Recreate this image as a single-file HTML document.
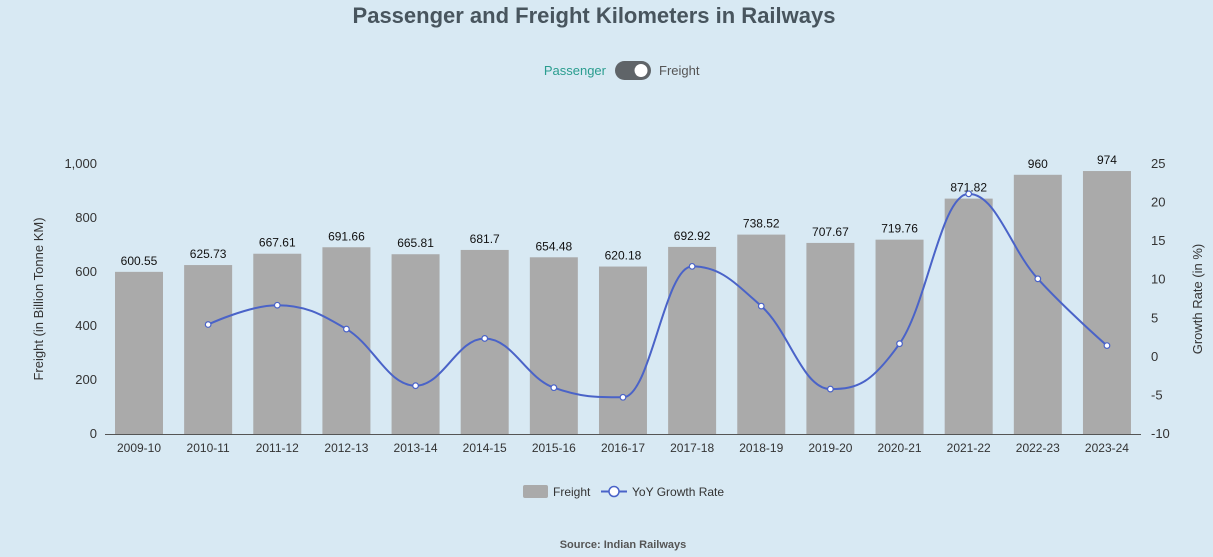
<!DOCTYPE html>
<html><head><meta charset="utf-8"><style>
body{margin:0;background:#d8e9f3;font-family:"Liberation Sans",sans-serif;}
svg{display:block}
</style></head><body>
<svg id="s" width="1213" height="557" xmlns="http://www.w3.org/2000/svg">
<rect width="1213" height="557" fill="#d8e9f3"/>
<text x="594" y="23" text-anchor="middle" font-size="22" font-weight="bold" fill="#48555e">Passenger and Freight Kilometers in Railways</text>
<text x="606" y="75" text-anchor="end" font-size="13" fill="#2a9d8f">Passenger</text>
<rect x="615" y="61" width="36" height="19" rx="9.5" fill="#5f6468"/>
<circle cx="641" cy="70.5" r="6.5" fill="#fff"/>
<text x="659" y="75" font-size="13" fill="#555">Freight</text>
<g id="g"></g>
<text x="43" y="299" transform="rotate(-90 43 299)" text-anchor="middle" font-size="13" fill="#333">Freight (in Billion Tonne KM)</text>
<text x="1202" y="299" transform="rotate(-90 1202 299)" text-anchor="middle" font-size="13" fill="#333">Growth Rate (in %)</text>
<rect x="523" y="485" width="25" height="13" rx="2" fill="#aaaaaa"/>
<text x="553" y="496" font-size="12" fill="#333">Freight</text>
<line x1="601" y1="491.5" x2="627" y2="491.5" stroke="#4a63c8" stroke-width="2"/>
<circle cx="614" cy="491.5" r="5" fill="#fff" stroke="#4a63c8" stroke-width="1.5"/>
<text x="632" y="496" font-size="12" fill="#333">YoY Growth Rate</text>
<text x="623" y="548" text-anchor="middle" font-size="11" font-weight="bold" fill="#555">Source: Indian Railways</text>
</svg>
<script>
var cats=["2009-10","2010-11","2011-12","2012-13","2013-14","2014-15","2015-16","2016-17","2017-18","2018-19","2019-20","2020-21","2021-22","2022-23","2023-24"];
var vals=[600.55,625.73,667.61,691.66,665.81,681.7,654.48,620.18,692.92,738.52,707.67,719.76,871.82,960,974];
var labs=["600.55","625.73","667.61","691.66","665.81","681.7","654.48","620.18","692.92","738.52","707.67","719.76","871.82","960","974"];
var h='';
function yl(v){return 434-v*0.27;}
function yr(v){return 434-(v+10)*270/35;}
function cx(i){return 139+i*69.14;}
h+='<line x1="105" y1="434.5" x2="1141" y2="434.5" stroke="#555" stroke-width="1"/>';
for(var i=0;i<=5;i++){var v=i*200;h+='<text x="97" y="'+(yl(v)+4)+'" text-anchor="end" font-size="13" fill="#333">'+(v==1000?"1,000":v)+'</text>';}
for(var v=-10;v<=25;v+=5){h+='<text x="1151" y="'+(yr(v)+4)+'" font-size="13" fill="#333">'+v+'</text>';}
for(var i=0;i<15;i++){var x=cx(i);
h+='<rect x="'+(x-24)+'" y="'+yl(vals[i])+'" width="48" height="'+(vals[i]*0.27)+'" fill="#aaaaaa"/>';
h+='<text x="'+x+'" y="'+(yl(vals[i])-7)+'" text-anchor="middle" font-size="12" fill="#111">'+labs[i]+'</text>';
h+='<text x="'+x+'" y="452" text-anchor="middle" font-size="12" fill="#333">'+cats[i]+'</text>';}
var pts=[];for(var i=1;i<15;i++){pts.push([cx(i),yr((vals[i]/vals[i-1]-1)*100)]);}
var d='M'+pts[0][0]+','+pts[0][1];var s=1.5;
function ctrl(prev,cur,next){if(prev===cur||next===cur)return null;
var lx=(s*cur[0]+prev[0])/(s+1),ly=(s*cur[1]+prev[1])/(s+1),rx=(s*cur[0]+next[0])/(s+1),ry=(s*cur[1]+next[1])/(s+1);
var corr=0;if(rx!=lx)corr=((ry-ly)*(rx-cur[0]))/(rx-lx)+cur[1]-ry;ly+=corr;ry+=corr;
if(ly>prev[1]&&ly>cur[1]){ly=Math.max(prev[1],cur[1]);ry=2*cur[1]-ly;}else if(ly<prev[1]&&ly<cur[1]){ly=Math.min(prev[1],cur[1]);ry=2*cur[1]-ly;}
if(ry>next[1]&&ry>cur[1]){ry=Math.max(next[1],cur[1]);ly=2*cur[1]-ry;}else if(ry<next[1]&&ry<cur[1]){ry=Math.min(next[1],cur[1]);ly=2*cur[1]-ry;}
return [lx,ly,rx,ry];}
for(var i=0;i<pts.length-1;i++){
var p0=pts[i],p1=pts[i+1];
var pa=pts[i-1]||p0,pb=pts[i+2]||p1;
var a=ctrl(pa,p0,p1),b=ctrl(p0,p1,pb);
var c1x=a?a[2]:p0[0],c1y=a?a[3]:p0[1],c2x=b?b[0]:p1[0],c2y=b?b[1]:p1[1];
d+=' C'+c1x+','+c1y+' '+c2x+','+c2y+' '+p1[0]+','+p1[1];}
h+='<path d="'+d+'" fill="none" stroke="#4a63c8" stroke-width="2"/>';
pts.forEach(function(p){h+='<circle cx="'+p[0]+'" cy="'+p[1]+'" r="2.8" fill="#fff" stroke="#4a63c8" stroke-width="1.2"/>';});
document.getElementById('g').innerHTML=h;
</script>
</body></html>
